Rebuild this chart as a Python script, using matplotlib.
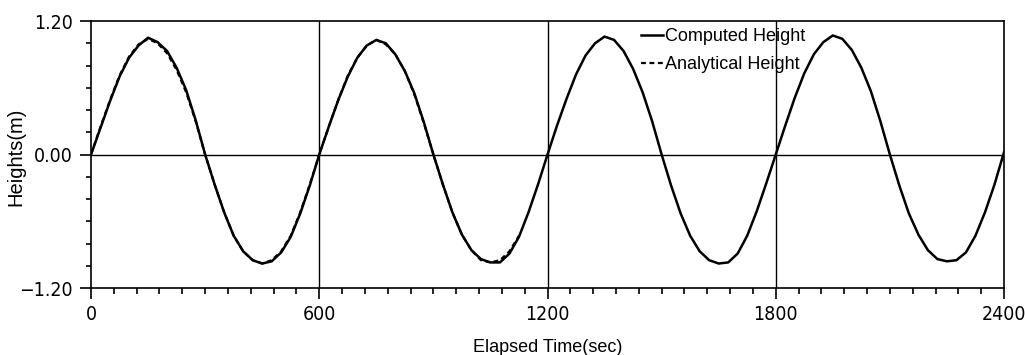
import numpy as np
import matplotlib
matplotlib.use("Agg")
import matplotlib.pyplot as plt
from matplotlib.ticker import MultipleLocator, FixedLocator

# ---- data ----
time_step = 25
computed_height = [
    0.00, 0.24, 0.48, 0.70, 0.87, 0.98, 1.05, 1.01, 0.93, 0.78, 0.58, 0.31,
    0.00, -0.27, -0.52, -0.73, -0.87, -0.95, -0.98, -0.96, -0.88, -0.74, -0.53, -0.28,
    0.00, 0.25, 0.49, 0.70, 0.87, 0.98, 1.03, 1.00, 0.90, 0.75, 0.55, 0.29,
    0.00, -0.27, -0.52, -0.72, -0.86, -0.94, -0.97, -0.97, -0.89, -0.74, -0.52, -0.27,
    0.00, 0.26, 0.50, 0.72, 0.89, 1.00, 1.06, 1.03, 0.93, 0.77, 0.56, 0.30,
    0.00, -0.28, -0.53, -0.73, -0.87, -0.95, -0.98, -0.97, -0.89, -0.73, -0.51, -0.26,
    0.00, 0.26, 0.51, 0.73, 0.90, 1.01, 1.07, 1.04, 0.94, 0.78, 0.57, 0.30,
    0.00, -0.28, -0.53, -0.72, -0.86, -0.94, -0.96, -0.95, -0.88, -0.73, -0.52, -0.27,
    0.02,
]
analytical_height = [
    0.00, 0.25, 0.49, 0.71, 0.88, 0.99, 1.04, 1.00, 0.91, 0.76, 0.56, 0.30,
    0.00, -0.27, -0.52, -0.73, -0.87, -0.95, -0.98, -0.95, -0.87, -0.73, -0.52, -0.27,
    0.00, 0.25, 0.49, 0.71, 0.87, 0.98, 1.03, 0.99, 0.90, 0.75, 0.54, 0.28,
    0.00, -0.27, -0.52, -0.72, -0.86, -0.95, -0.97, -0.95, -0.87, -0.73,
]
computed_time = [i * time_step for i in range(len(computed_height))]
analytical_time = [i * time_step for i in range(len(analytical_height))]

x_major = [0, 600, 1200, 1800, 2400]
x_labels = ["0", "600", "1200", "1800", "2400"]
y_major = [-1.2, 0.0, 1.2]
y_labels = ["\u22121.20", "0.00", "1.20"]
grid_x = [600, 1200, 1800]

tick_font = ["DejaVu Sans", "Liberation Sans"]
text_font = ["Liberation Sans", "DejaVu Sans"]

fig = plt.figure(figsize=(10.25, 3.55), dpi=100)
ax = fig.add_axes([0.0888, 0.1887, 0.8907, 0.7521])

ax.plot(computed_time, computed_height, color="black", lw=1.8, label="Computed Height")
ax.plot(analytical_time, analytical_height, color="black", lw=1.6,
        linestyle=(0, (2.2, 1.6)), label="Analytical Height")

for gx in grid_x:
    ax.axvline(gx, color="black", lw=1.0)
ax.axhline(0, color="black", lw=1.0)

ax.set_xlim(0, 2400)
ax.set_ylim(-1.2, 1.2)

ax.xaxis.set_major_locator(FixedLocator(x_major))
ax.set_xticklabels(x_labels)
ax.xaxis.set_minor_locator(MultipleLocator(60))
ax.yaxis.set_major_locator(FixedLocator(y_major))
ax.set_yticklabels(y_labels)
ax.yaxis.set_minor_locator(MultipleLocator(0.2))

ax.tick_params(axis="both", which="major", direction="out", length=8, width=1.2,
               labelsize=14, pad=4)
ax.tick_params(axis="x", which="minor", direction="out", length=4, width=1.2)
ax.tick_params(axis="y", which="minor", direction="out", length=3.5, width=1.2)
ax.tick_params(axis="y", which="major", pad=5)
for lbl in ax.get_xticklabels() + ax.get_yticklabels():
    lbl.set_family(tick_font)
    lbl.set_fontstretch("condensed")

for sp in ax.spines.values():
    sp.set_linewidth(1.2)

ax.set_xlabel("Elapsed Time(sec)", fontsize=13, family=text_font)
ax.xaxis.set_label_coords(0.5, -0.19)
ax.set_ylabel("Heights(m)", fontsize=14.5, family=text_font)
ax.yaxis.set_label_coords(-0.072, 0.49)

leg = ax.legend(loc="upper left", bbox_to_anchor=(0.594, 1.0), frameon=False,
                prop={"family": text_font, "size": 13}, handlelength=1.25,
                handletextpad=0.1, labelspacing=0.6, borderaxespad=0)

fig.savefig("out.png", dpi=100)
